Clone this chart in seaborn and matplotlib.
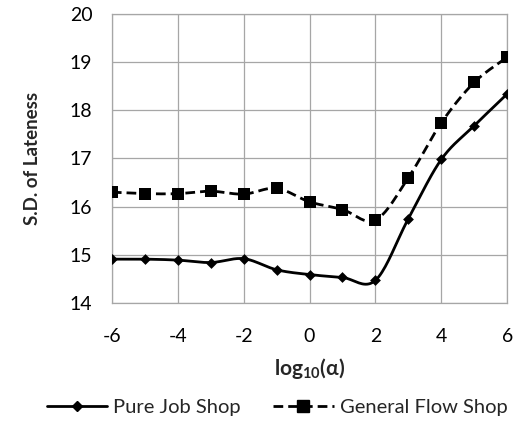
import numpy as np
import pandas as pd
import matplotlib
matplotlib.use("Agg")
import matplotlib.pyplot as plt
import seaborn as sns
from matplotlib.lines import Line2D

x_vals = [-6, -5, -4, -3, -2, -1, 0, 1, 2, 3, 4, 5, 6]
pure_job = [14.91, 14.91, 14.89, 14.84, 14.92, 14.69, 14.59, 14.53, 14.47, 15.75, 16.98, 17.68, 18.34]
general_flow = [16.30, 16.27, 16.27, 16.32, 16.26, 16.38, 16.10, 15.94, 15.72, 16.60, 17.74, 18.58, 19.10]
series_names = ["Pure Job Shop", "General Flow Shop"]
x_ticks = [-6, -4, -2, 0, 2, 4, 6]
y_ticks = [14, 15, 16, 17, 18, 19, 20]

sns.set_style("white")
plt.rcParams['font.family'] = ['Lato', 'DejaVu Sans']
plt.rcParams['mathtext.fontset'] = 'custom'
plt.rcParams['mathtext.rm'] = 'Lato'
plt.rcParams['mathtext.bf'] = 'Lato:bold'


def smooth(xs, ys, n=20):
    # Excel-style smoothed line (Catmull-Rom Bezier) for drawing only
    xs = np.asarray(xs, float); ys = np.asarray(ys, float)
    px = np.concatenate([[xs[0]], xs, [xs[-1]]])
    py = np.concatenate([[ys[0]], ys, [ys[-1]]])
    ox, oy = [], []
    for i in range(1, len(px) - 2):
        p0 = np.array([px[i], py[i]]); p3 = np.array([px[i + 1], py[i + 1]])
        c1 = p0 + (np.array([px[i + 1], py[i + 1]]) - np.array([px[i - 1], py[i - 1]])) / 6
        c2 = p3 - (np.array([px[i + 2], py[i + 2]]) - np.array([px[i], py[i]])) / 6
        t = np.linspace(0, 1, n, endpoint=(i == len(px) - 3))[:, None]
        b = (1 - t) ** 3 * p0 + 3 * (1 - t) ** 2 * t * c1 + 3 * (1 - t) * t ** 2 * c2 + t ** 3 * p3
        ox.extend(b[:, 0]); oy.extend(b[:, 1])
    return np.array(ox), np.array(oy)


fig = plt.figure(figsize=(5.30, 4.22), dpi=100)
ax = fig.add_axes([0.211, 0.282, 0.746, 0.685])

dash = (0, (3.5, 1.8))
styles = [dict(marker="D", ms=5.5, ls="-"), dict(marker="s", ms=8.5, ls=dash)]
for name, ys, st in zip(series_names, [pure_job, general_flow], styles):
    sx, sy = smooth(x_vals, ys)
    ax.plot(sx, sy, color="black", lw=2.0, linestyle=st["ls"], zorder=3)
    df = pd.DataFrame({"x": x_vals, "y": ys})
    sns.scatterplot(data=df, x="x", y="y", marker=st["marker"], s=st["ms"] ** 2,
                    color="black", edgecolor="black", linewidth=0, ax=ax, zorder=4)

ax.set_xlim(-6, 6)
ax.set_ylim(14, 20)
ax.set_xticks(x_ticks)
ax.set_yticks(y_ticks)
ax.set_xticklabels([str(t) for t in x_ticks])
ax.tick_params(axis="both", length=0, labelsize=14, colors="#000000")
ax.tick_params(axis="x", pad=18)
ax.tick_params(axis="y", pad=14)
ax.grid(True, color="#a6a6a6", lw=0.9)
for sp in ax.spines.values():
    sp.set_color("#a6a6a6")
    sp.set_linewidth(0.9)

ax.set_xlabel(r"$\mathbf{log_{10}(\alpha)}$", fontsize=15, va="center")
ax.xaxis.set_label_coords(0.5, (303 - 368) / 289)
ax.set_ylabel("S.D. of Lateness", fontsize=13.5, fontweight="bold", va="center")
ax.yaxis.set_label_coords((33 - 112) / 395, 0.5)

handles = [
    Line2D([0], [0], color="black", lw=2.0, ls="-", marker="D", ms=5.5),
    Line2D([0], [0], color="black", lw=2.0, ls=dash, marker="s", ms=8.5),
]
fig.legend(handles, series_names, loc="center", bbox_to_anchor=(0.523, 0.035),
           ncol=2, frameon=False, fontsize=14.5, handlelength=3.0, columnspacing=1.6,
           handletextpad=0.3)

fig.savefig("out.png", dpi=100)
